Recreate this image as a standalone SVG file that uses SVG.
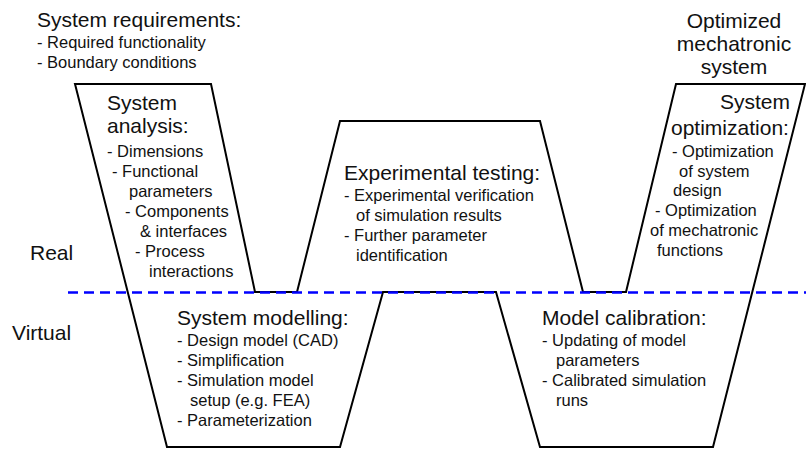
<svg xmlns="http://www.w3.org/2000/svg" width="806" height="450" viewBox="0 0 806 450">
  <style>
    .outline { fill: none; stroke: #000; stroke-width: 2; stroke-linejoin: miter; }
    .divider { fill: none; stroke: #0000ff; stroke-width: 2.5; stroke-dasharray: 10 6; }
    text { font-family: "Liberation Sans", Arial, sans-serif; fill: #111; }
    .h { font-size: 21px; }
    .b { font-size: 16.5px; }
    .mid { text-anchor: middle; }
    .end { text-anchor: end; }
  </style>

  <rect width="806" height="450" fill="#fff"/>

  <!-- W-shaped process outline -->
  <g id="process-outline">
    <polygon class="outline" points="75,84 211,84 255,292 297,292 340,121 540,121 583,292 626,292 676,84 805,84 713,447 540,447 496,292 383,292 340,447 167,447"/>
  </g>

  <!-- Domain labels -->
  <g id="domain-labels">
    <text class="h" x="30" y="260">Real</text>
    <text class="h" x="12" y="340">Virtual</text>
  </g>

  <g id="system-requirements">
    <text class="h" x="37" y="27">System requirements:</text>
    <text class="b" x="37" y="48">- Required functionality</text>
    <text class="b" x="37" y="68">- Boundary conditions</text>
  </g>

  <g id="system-analysis">
    <text class="h" x="107" y="110">System</text>
    <text class="h" x="107" y="133">analysis:</text>
    <text class="b" x="107" y="157">- Dimensions</text>
    <text class="b" x="112" y="177">- Functional</text>
    <text class="b" x="129" y="197">parameters</text>
    <text class="b" x="125" y="217">- Components</text>
    <text class="b" x="140" y="237">&amp; interfaces</text>
    <text class="b" x="135" y="257">- Process</text>
    <text class="b" x="149" y="277">interactions</text>
  </g>

  <g id="system-modelling">
    <text class="h" x="177" y="325">System modelling:</text>
    <text class="b" x="177" y="346">- Design model (CAD)</text>
    <text class="b" x="177" y="366">- Simplification</text>
    <text class="b" x="177" y="386">- Simulation model</text>
    <text class="b" x="190" y="406">setup (e.g. FEA)</text>
    <text class="b" x="177" y="426">- Parameterization</text>
  </g>

  <g id="experimental-testing">
    <text class="h" x="344" y="180">Experimental testing:</text>
    <text class="b" x="344" y="201">- Experimental verification</text>
    <text class="b" x="356" y="221">of simulation results</text>
    <text class="b" x="344" y="241">- Further parameter</text>
    <text class="b" x="356" y="261">identification</text>
  </g>

  <g id="model-calibration">
    <text class="h" x="542" y="325">Model calibration:</text>
    <text class="b" x="542" y="346">- Updating of model</text>
    <text class="b" x="556" y="366">parameters</text>
    <text class="b" x="542" y="386">- Calibrated simulation</text>
    <text class="b" x="556" y="406">runs</text>
  </g>

  <g id="system-optimization">
    <text class="h end" x="790" y="109">System</text>
    <text class="h" x="671" y="135">optimization:</text>
    <text class="b" x="672" y="157">- Optimization</text>
    <text class="b" x="679" y="177">of system</text>
    <text class="b" x="673" y="196">design</text>
    <text class="b" x="655" y="216">- Optimization</text>
    <text class="b" x="650" y="236">of mechatronic</text>
    <text class="b" x="657" y="256">functions</text>
  </g>

  <g id="optimized-system">
    <text class="h mid" x="734" y="28">Optimized</text>
    <text class="h mid" x="734" y="51">mechatronic</text>
    <text class="h mid" x="734" y="74">system</text>
  </g>

  <!-- Real / virtual boundary -->
  <g id="boundary">
    <line class="divider" x1="68" y1="292.5" x2="806" y2="292.5"/>
  </g>
</svg>
